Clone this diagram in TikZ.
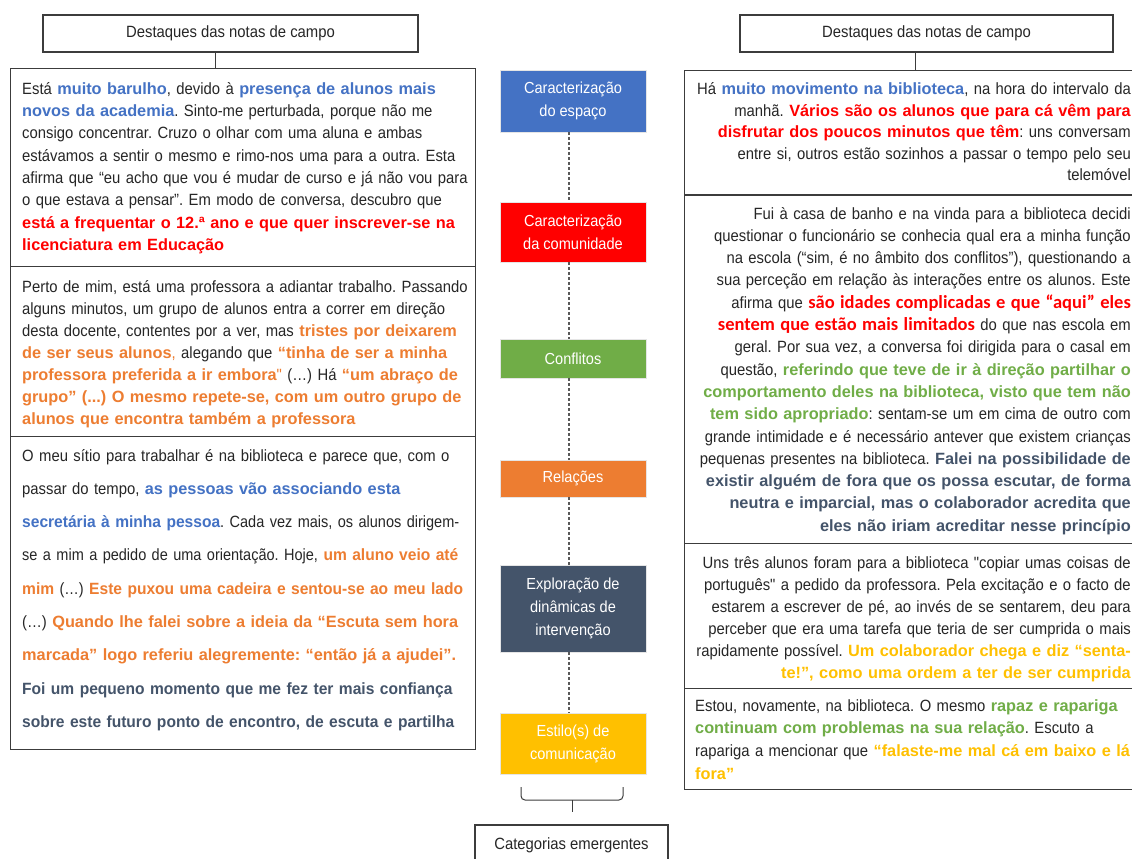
\documentclass[tikz,border=0pt]{standalone}
\usepackage{fontspec}
\setmainfont{Liberation Sans}[FakeStretch=0.91]
\newfontfamily\regfam{Liberation Sans}[FakeStretch=0.91]
\newfontfamily\regnarrow{Liberation Sans}[FakeStretch=0.89]
\newfontfamily\bldfam{Liberation Sans}
\newfontfamily\bldnarrow{Liberation Sans}[FakeStretch=0.955]
\newfontfamily\calfam{Carlito}
\definecolor{cblue}{HTML}{4472C4}
\definecolor{cred}{HTML}{FF0000}
\definecolor{cgreen}{HTML}{70AD47}
\definecolor{corange}{HTML}{ED7D31}
\definecolor{cslate}{HTML}{44546A}
\definecolor{cgold}{HTML}{FFC000}
\definecolor{ctext}{HTML}{262626}
\definecolor{cframe}{HTML}{3C3C3C}
\definecolor{cdash}{HTML}{595959}
\newcommand\hlblue[1]{{\bldfam\bfseries\color{cblue}#1}}
\newcommand\hlbluen[1]{{\bldnarrow\bfseries\color{cblue}#1}}
\newcommand\hlred[1]{{\bldfam\bfseries\color{cred}#1}}
\newcommand\hlredc[1]{{\calfam\bfseries\fontsize{18.5}{22.3}\selectfont\color{cred}#1}}
\newcommand\hlgreen[1]{{\bldfam\bfseries\color{cgreen}#1}}
\newcommand\hlorange[1]{{\bldfam\bfseries\color{corange}#1}}
\newcommand\hlorangen[1]{{\bldnarrow\bfseries\color{corange}#1}}
\newcommand\hlslate[1]{{\bldfam\bfseries\color{cslate}#1}}
\newcommand\hlslaten[1]{{\bldnarrow\bfseries\color{cslate}#1}}
\newcommand\hlgold[1]{{\bldfam\bfseries\color{cgold}#1}}
\newcommand\jline[1]{\makebox[\linewidth][s]{#1}}
\frenchspacing
\tikzset{
  frame/.style={draw=cframe, line width=1.3pt, fill=white, inner sep=0pt, anchor=north west},
  hdr/.style={draw=cframe, line width=1.1pt, fill=white, inner sep=0pt, text=ctext, font=\regfam\fontsize{16.3}{20}\selectfont},
  catbox/.style={draw=white!80!gray, line width=0.8pt, inner sep=0pt, minimum width=146pt, text=white, align=center, font=\regfam\fontsize{16}{23}\selectfont},
  bodyL/.style={anchor=base west, inner sep=0pt, text width=440pt, align=left, text=ctext},
  bodyR/.style={anchor=base east, inner sep=0pt, text width=450pt, align=right, text=ctext},
  conn/.style={draw=cframe, line width=1pt},
  dconn/.style={draw=cdash, line width=1.5pt, dash pattern=on 3pt off 2pt},
}
\begin{document}
\begin{tikzpicture}[x=1pt, y=-1pt]
\useasboundingbox (0,0) rectangle (1132,859);
\clip (0,0) rectangle (1132,859);

% headers
\node[hdr, minimum width=375pt, minimum height=37pt] (LH) at (230.5,33.5) {Destaques das notas de campo};
\node[hdr, minimum width=373pt, minimum height=37pt] (RH) at (926.5,33.5) {Destaques das notas de campo};

% left frames
\node[frame, minimum width=465pt, minimum height=198pt] (L1) at (10,68) {};
\node[frame, minimum width=465pt, minimum height=170pt] (L2) at (10,266) {};
\node[frame, minimum width=465pt, minimum height=313pt] (L3) at (10,436) {};

% right frames
\node[frame, minimum width=470pt, minimum height=124pt] (R1) at (684,70) {};
\node[frame, minimum width=470pt, minimum height=348pt] (R2) at (684,195) {};
\node[frame, minimum width=470pt, minimum height=145pt] (R3) at (684,543) {};
\node[frame, minimum width=470pt, minimum height=101pt] (R4) at (684,688) {};

% header connectors
\coordinate (lx) at (215,0);
\coordinate (rx) at (915,0);
\draw[conn] (LH.south -| lx) -- (L1.north -| lx);
\draw[conn] (RH.south -| rx) -- (R1.north -| rx);

% left texts
\node[bodyL, font=\regfam\fontsize{16.3}{22.4}\selectfont] (L1t) at (22,94) {%
\jline{Está \hlblue{muito barulho}, devido à \hlblue{presença de alunos mais}}\\
\jline{\hlblue{novos da academia}. Sinto-me perturbada, porque não me}\\
\jline{consigo concentrar. Cruzo o olhar com uma aluna e ambas}\\
\jline{estávamos a sentir o mesmo e rimo-nos uma para a outra. Esta}\\
\jline{afirma que “eu acho que vou é mudar de curso e já não vou para}\\
\jline{o que estava a pensar”. Em modo de conversa, descubro que}\\
\jline{\hlred{está a frequentar o 12.ª ano e que quer inscrever-se na}}\\
\hlred{licenciatura em Educação}};

\node[bodyL, font=\regfam\fontsize{16.3}{22}\selectfont] (L2t) at (22,292) {%
\jline{Perto de mim, está uma professora a adiantar trabalho. Passando}\\
\jline{alguns minutos, um grupo de alunos entra a correr em direção}\\
\jline{desta docente, contentes por a ver, mas \hlorange{tristes por deixarem}}\\
\jline{\hlorange{de ser seus alunos}{\color{corange},} alegando que \hlorange{“tinha de ser a minha}}\\
\jline{\hlorange{professora preferida a ir embora}{\color{corange}"} (…) Há \hlorange{“um abraço de}}\\
\jline{\hlorange{grupo” (...) O mesmo repete-se, com um outro grupo de}}\\
\hlorange{alunos que encontra também a professora}};

\node[bodyL, font=\regfam\fontsize{16.3}{33.3}\selectfont] (L3t) at (22,461) {%
\jline{O meu sítio para trabalhar é na biblioteca e parece que, com o}\\
\jline{passar do tempo, \hlblue{as pessoas vão associando esta}}\\
\jline{\hlbluen{secretária à minha pessoa}{\regnarrow. Cada vez mais, os alunos dirigem-}}\\
\jline{{\regnarrow se a mim a pedido de uma orientação. Hoje,} \hlorangen{um aluno veio até}}\\
\jline{\hlorangen{mim} {\regnarrow(…)} \hlorangen{Este puxou uma cadeira e sentou-se ao meu lado}}\\
\jline{(…) \hlorange{Quando lhe falei sobre a ideia da “Escuta sem hora}}\\
\jline{\hlorange{marcada” logo referiu alegremente: “então já a ajudei”.}}\\
\jline{\hlslaten{Foi um pequeno momento que me fez ter mais confiança}}\\
\jline{\hlslaten{sobre este futuro ponto de encontro, de escuta e partilha}}};

% right texts
\node[bodyR, font=\regfam\fontsize{16.3}{21.5}\selectfont] (R1t) at (1131,95) {%
Há \hlblue{muito movimento na biblioteca}, na hora do intervalo da\\
manhã. \hlred{Vários são os alunos que para cá vêm para}\\
\hlred{disfrutar dos poucos minutos que têm}: uns conversam\\
entre si, outros estão sozinhos a passar o tempo pelo seu\\
telemóvel};

\node[bodyR, font=\regfam\fontsize{16.3}{22.3}\selectfont] (R2t) at (1131,219) {%
Fui à casa de banho e na vinda para a biblioteca decidi\\
questionar o funcionário se conhecia qual era a minha função\\
na escola (“sim, é no âmbito dos conflitos”), questionando a\\
sua perceção em relação às interações entre os alunos. Este\\
afirma que \hlredc{são idades complicadas e que “aqui” eles}\\
\hlredc{sentem que estão mais limitados} do que nas escola em\\
geral. Por sua vez, a conversa foi dirigida para o casal em\\
questão, \hlgreen{referindo que teve de ir à direção partilhar o}\\
\hlgreen{comportamento deles na biblioteca, visto que tem não}\\
\hlgreen{tem sido apropriado}: sentam-se um em cima de outro com\\
grande intimidade e é necessário antever que existem crianças\\
pequenas presentes na biblioteca. \hlslate{Falei na possibilidade de}\\
\hlslate{existir alguém de fora que os possa escutar, de forma}\\
\hlslate{neutra e imparcial, mas o colaborador acredita que}\\
\hlslate{eles não iriam acreditar nesse princípio}};

\node[bodyR, font=\regfam\fontsize{16.3}{22}\selectfont] (R3t) at (1131,568) {%
Uns três alunos foram para a biblioteca "copiar umas coisas de\\
português" a pedido da professora. Pela excitação e o facto de\\
estarem a escrever de pé, ao invés de se sentarem, deu para\\
perceber que era uma tarefa que teria de ser cumprida o mais\\
rapidamente possível. \hlgold{Um colaborador chega e diz “senta-}\\
\hlgold{te!”, como uma ordem a ter de ser cumprida}};

\node[bodyL, font=\regfam\fontsize{16.3}{22.7}\selectfont] (R4t) at (695,711) {%
Estou, novamente, na biblioteca. O mesmo \hlgreen{rapaz e rapariga}\\
\hlgreen{continuam com problemas na sua relação}. Escuto a\\
rapariga a mencionar que \hlgold{“falaste-me mal cá em baixo e lá}\\
\hlgold{fora”}};

% category boxes
\node[catbox, fill=cblue, minimum height=62pt] (c1) at (573,101) {Caracterização\\do espaço};
\node[catbox, fill=cred, minimum height=60pt] (c2) at (573,232) {Caracterização\\da comunidade};
\node[catbox, fill=cgreen, minimum height=39pt] (c3) at (573,358.5) {Conflitos};
\node[catbox, fill=corange, minimum height=37pt] (c4) at (573,478.5) {Relações};
\node[catbox, fill=cslate, minimum height=87pt] (c5) at (573,608.5) {Exploração de\\dinâmicas de\\intervenção};
\node[catbox, fill=cgold, minimum height=61pt] (c6) at (573,743.5) {Estilo(s) de\\comunicação};

\draw[dconn] ([xshift=-4pt]c1.south) -- ([xshift=-4pt]c2.north);
\draw[dconn] ([xshift=-4pt]c2.south) -- ([xshift=-4pt]c3.north);
\draw[dconn] ([xshift=-4pt]c3.south) -- ([xshift=-4pt]c4.north);
\draw[dconn] ([xshift=-4pt]c4.south) -- ([xshift=-4pt]c5.north);
\draw[dconn] ([xshift=-4pt]c5.south) -- ([xshift=-4pt]c6.north);

% brace
\draw[conn, rounded corners=4pt] (521,787) -- (521,800) -- (623,800) -- (623,787);
\draw[conn] (572,800) -- (572,812);

% emergent categories
\node[hdr, minimum width=193pt, minimum height=40pt] (CE) at (571.5,845) {Categorias emergentes};
\end{tikzpicture}
\end{document}
